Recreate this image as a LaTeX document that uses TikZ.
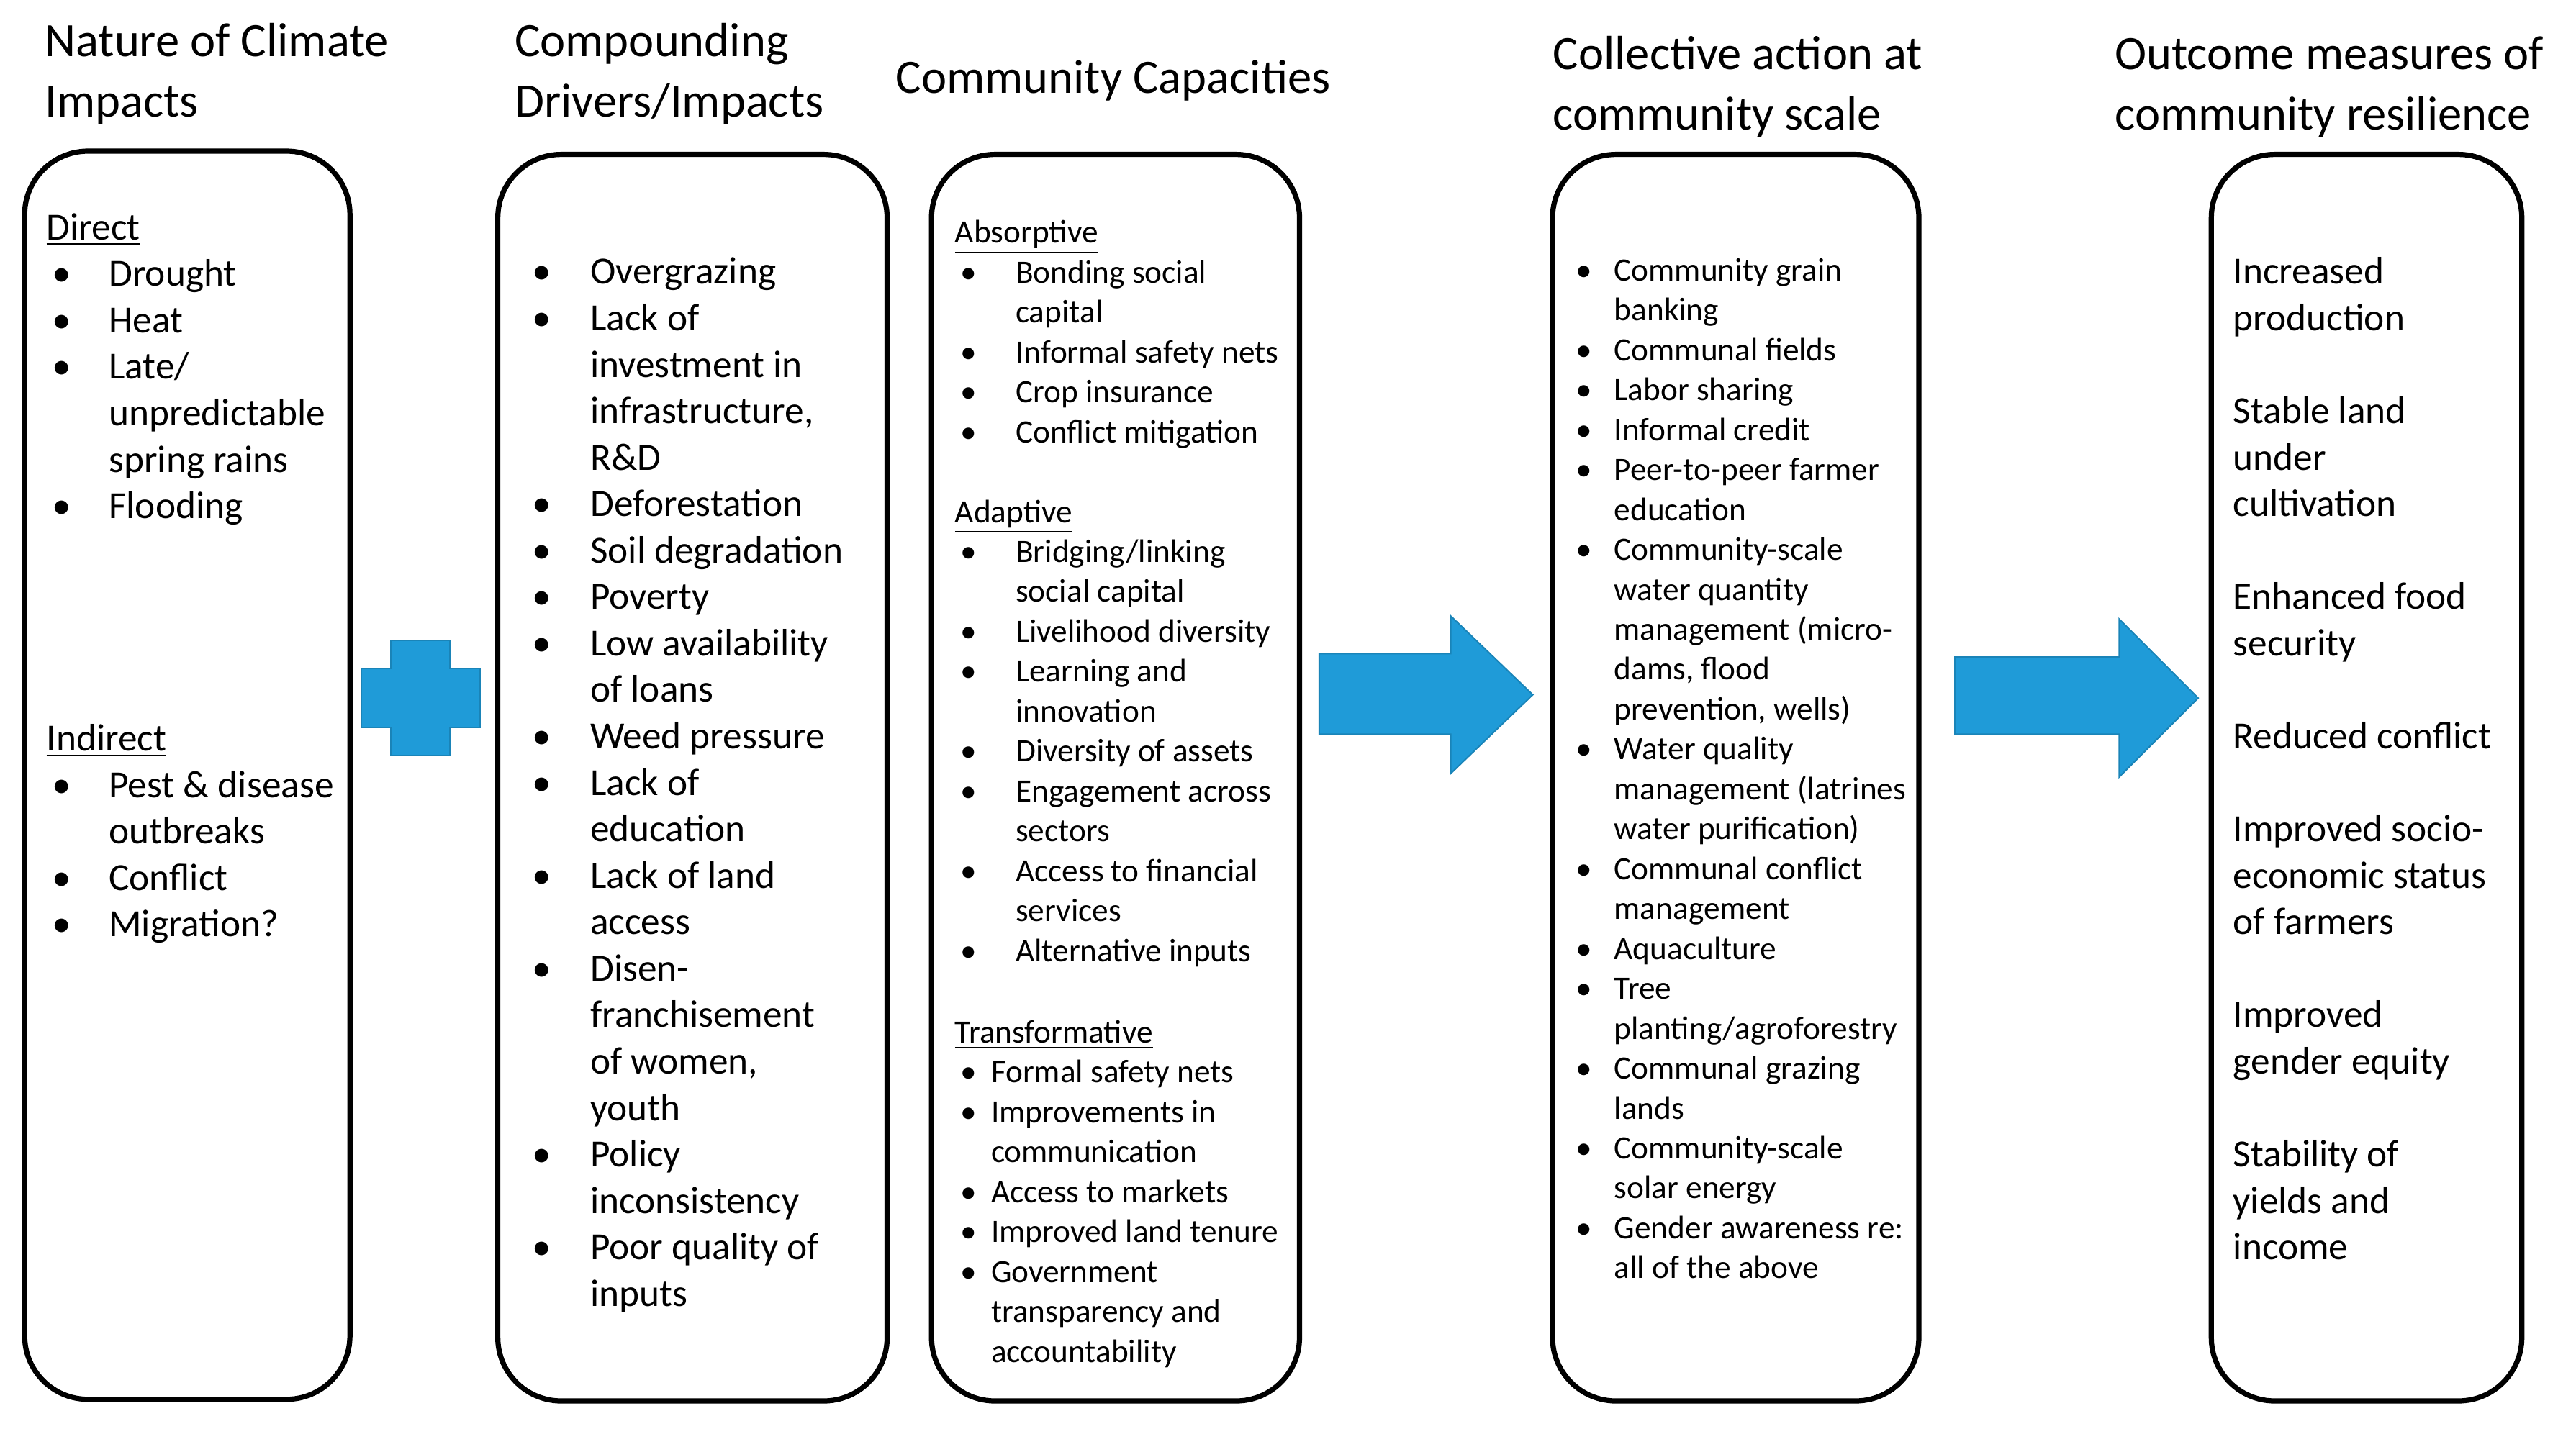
\documentclass[tikz,border=0pt]{standalone}
\usepackage{fontspec}
\setmainfont{Carlito}
\usepackage{array}
\definecolor{arrblue}{HTML}{1F9BD8}
\newcommand{\hd}[1]{\multicolumn{2}{@{}l@{}}{\underline{#1}}}
\newcommand{\bu}{\textbullet}
\begin{document}
\begin{tikzpicture}[x=0.02cm,y=-0.02cm,
  colbox/.style={draw=black,line width=1.8pt,rounded corners=22pt},
  ttl/.style={anchor=west,inner sep=0pt,font=\fontsize{16.6}{21}\selectfont,align=left},
  body/.style={anchor=base west,inner sep=0pt,font=\fontsize{13.3}{16.1}\selectfont},
  small/.style={anchor=base west,inner sep=0pt,font=\fontsize{11.3}{13.83}\selectfont},
  blueshape/.style={fill=arrblue,draw=arrblue!85!black,line width=0.5pt}]
\useasboundingbox (0,0) rectangle (1568,870);
% titles
\node[ttl] (t1) at (27,45) {Nature of Climate\\Impacts};
\node[ttl] (t2) at (313,45) {Compounding\\Drivers/Impacts};
\node[ttl] (t3) at (545,49) {Community Capacities};
\node[ttl] (t4) at (945,53) {Collective action at\\community scale};
\node[ttl] (t5) at (1287,53) {Outcome measures of\\community resilience};
% boxes
\draw[colbox] (15,92) rectangle (213,852);
\draw[colbox] (303,94) rectangle (540,853);
\draw[colbox] (567,94) rectangle (791,853);
\draw[colbox] (945,94) rectangle (1168,853);
\draw[colbox] (1346,94) rectangle (1535,853);
% cross
\fill[blueshape] (238,390) -- (274,390) -- (274,407) -- (292,407) -- (292,443) -- (274,443) -- (274,460) -- (238,460) -- (238,443) -- (220,443) -- (220,407) -- (238,407) -- cycle;
% arrows
\fill[blueshape] (803,398) -- (883,398) -- (883,375) -- (933,423) -- (883,471) -- (883,447) -- (803,447) -- cycle;
\fill[blueshape] (1190,400) -- (1290,400) -- (1290,377) -- (1338,425) -- (1290,473) -- (1290,447) -- (1190,447) -- cycle;
% box 1
\node[body] (b1) at (28,146) {\begin{tabular}[t]{@{}p{21.6pt}@{}l@{}}
\hd{Direct}\\
\hspace{2pt}\bu & Drought\\
\hspace{2pt}\bu & Heat\\
\hspace{2pt}\bu & Late/\\
 & unpredictable\\
 & spring rains\\
\hspace{2pt}\bu & Flooding\\
 & \\ & \\ & \\ & \\
\hd{Indirect}\\
\hspace{2pt}\bu & Pest \& disease\\
 & outbreaks\\
\hspace{2pt}\bu & Conflict\\
\hspace{2pt}\bu & Migration?
\end{tabular}};
% box 2
\node[body] (b2) at (320,173) {\begin{tabular}[t]{@{}p{22.2pt}@{}l@{}}
\hspace{2pt}\bu & Overgrazing\\
\hspace{2pt}\bu & Lack of\\
 & investment in\\
 & infrastructure,\\
 & R\&D\\
\hspace{2pt}\bu & Deforestation\\
\hspace{2pt}\bu & Soil degradation\\
\hspace{2pt}\bu & Poverty\\
\hspace{2pt}\bu & Low availability\\
 & of loans\\
\hspace{2pt}\bu & Weed pressure\\
\hspace{2pt}\bu & Lack of\\
 & education\\
\hspace{2pt}\bu & Lack of land\\
 & access\\
\hspace{2pt}\bu & Disen-\\
 & franchisement\\
 & of women,\\
 & youth\\
\hspace{2pt}\bu & Policy\\
 & inconsistency\\
\hspace{2pt}\bu & Poor quality of\\
 & inputs
\end{tabular}};
% box 3
\node[small] (b3a) at (581,148) {\begin{tabular}[t]{@{}p{21pt}@{}l@{}}
\hd{Absorptive}\\
\hspace{2pt}\bu & Bonding social\\
 & capital\\
\hspace{2pt}\bu & Informal safety nets\\
\hspace{2pt}\bu & Crop insurance\\
\hspace{2pt}\bu & Conflict mitigation\\
 & \\
\hd{Adaptive}\\
\hspace{2pt}\bu & Bridging/linking\\
 & social capital\\
\hspace{2pt}\bu & Livelihood diversity\\
\hspace{2pt}\bu & Learning and\\
 & innovation\\
\hspace{2pt}\bu & Diversity of assets\\
\hspace{2pt}\bu & Engagement across\\
 & sectors\\
\hspace{2pt}\bu & Access to financial\\
 & services\\
\hspace{2pt}\bu & Alternative inputs
\end{tabular}};
\node[small] (b3b) at (581,635) {\begin{tabular}[t]{@{}p{12.5pt}@{}l@{}}
\hd{Transformative}\\
\hspace{2pt}\bu & Formal safety nets\\
\hspace{2pt}\bu & Improvements in\\
 & communication\\
\hspace{2pt}\bu & Access to markets\\
\hspace{2pt}\bu & Improved land tenure\\
\hspace{2pt}\bu & Government\\
 & transparency and\\
 & accountability
\end{tabular}};
% box 4
\node[small] (b4) at (959,171) {\begin{tabular}[t]{@{}p{13.2pt}@{}l@{}}
\bu & Community grain\\
 & banking\\
\bu & Communal fields\\
\bu & Labor sharing\\
\bu & Informal credit\\
\bu & Peer-to-peer farmer\\
 & education\\
\bu & Community-scale\\
 & water quantity\\
 & management (micro-\\
 & dams, flood\\
 & prevention, wells)\\
\bu & Water quality\\
 & management (latrines\\
 & water purification)\\
\bu & Communal conflict\\
 & management\\
\bu & Aquaculture\\
\bu & Tree\\
 & planting/agroforestry\\
\bu & Communal grazing\\
 & lands\\
\bu & Community-scale\\
 & solar energy\\
\bu & Gender awareness re:\\
 & all of the above
\end{tabular}};
% box 5
\node[body] (b5) at (1359,173) {\begin{tabular}[t]{@{}l@{}}
Increased\\ production\\ \\
Stable land\\ under\\ cultivation\\ \\
Enhanced food\\ security\\ \\
Reduced conflict\\ \\
Improved socio-\\ economic status\\ of farmers\\ \\
Improved\\ gender equity\\ \\
Stability of\\ yields and\\ income
\end{tabular}};
\end{tikzpicture}
\end{document}
